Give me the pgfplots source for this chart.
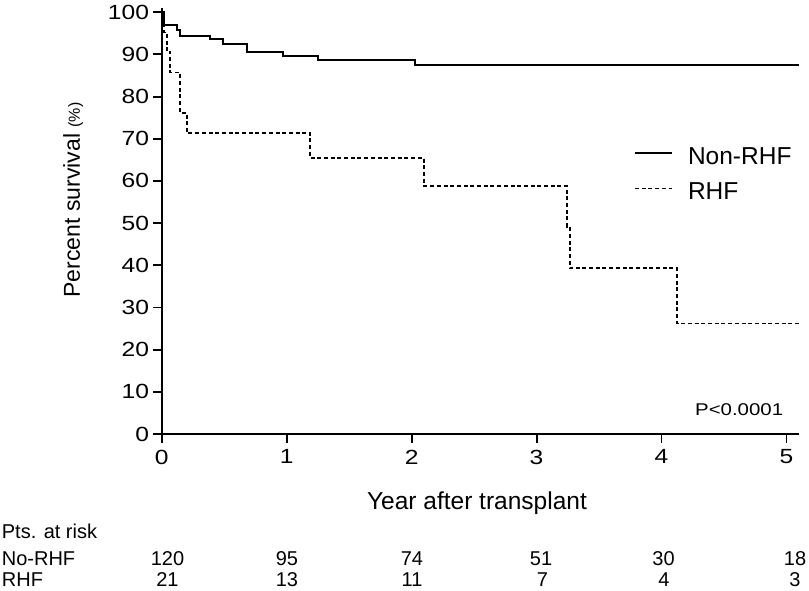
\documentclass[border=0pt]{standalone}
\usepackage{pgfplots}
\pgfplotsset{compat=1.18}
\usepackage{fontspec}
\setmainfont{Liberation Sans}
\newfontfamily\tickfont[FakeStretch=1.2]{Liberation Sans}
\begin{document}
\begin{tikzpicture}
\useasboundingbox (-161.7pt,-156pt) rectangle (647.3pt,434pt);
\begin{axis}[
  at={(0pt,0pt)}, anchor=south west,
  scale only axis, width=637.3pt, height=426pt,
  xmin=0, xmax=5.1, ymin=0, ymax=101,
  axis x line*=bottom, axis y line*=left,
  axis line style={line width=1.9pt, black},
  xtick={0,1,2,3,4,5}, ytick={0,10,...,100},
  tick align=outside, major tick length=8.5pt,
  tick style={line width=1.9pt, black},
  /pgf/number format/assume math mode=true,
  ticklabel style={font=\tickfont\fontsize{20.5}{23}\selectfont, inner sep=0pt},
  yticklabel style={anchor=east, xshift=-4pt},
  xticklabel style={anchor=north, yshift=-7pt},
  clip=false,
  legend cell align=left,
  legend style={draw=none, fill=none, inner sep=0pt, at={(0.741,0.673)}, anchor=north west,
    font=\fontsize{24.5}{29}\selectfont, nodes={inner sep=0pt}, row sep=17pt,
    /tikz/every odd column/.append style={column sep=15pt}},
  legend image code/.code={\draw[#1] (0pt,0.358em) -- (37pt,0.358em);},
]
\addplot[const plot, line width=1.9pt, black] coordinates {
 (0,100) (0.02,97.0) (0.12,95.8) (0.15,94.4) (0.39,93.6) (0.49,92.5)
 (0.685,90.6) (0.97,89.7) (1.25,88.7) (2.03,87.5) (5.1,87.5)};
\addlegendentry{Non-RHF}
\addplot[const plot, line width=1.9pt, black, dash pattern=on 4pt off 2.7pt] coordinates {
 (0,100) (0.02,95.2) (0.04,90.5) (0.07,85.7) (0.146,76.2) (0.2,71.4)
 (1.19,65.4) (2.10,58.8) (3.245,49.1) (3.265,39.3) (4.125,26.2) (5.1,26.2)};
\addlegendentry{RHF}
\end{axis}
% P value
\node[anchor=base west, inner sep=0pt, font=\tickfont\fontsize{17}{20}\selectfont] at (533.3pt,18.3pt) {P<0.0001};
% axis labels
\node[anchor=base, inner sep=0pt, font=\fontsize{24.5}{29}\selectfont] at (315.3pt,-75.3pt) {Year after transplant};
\node[anchor=base, inner sep=0pt, rotate=90] at (-81.7pt,234pt) {\fontsize{23}{27}\selectfont Percent survival \fontsize{16}{19}\selectfont(\%)};
% patients at risk
\begin{scope}[every node/.style={inner sep=0pt, font=\fontsize{20}{24}\selectfont}]
\node[anchor=base west] at (-160pt,-104.3pt) {Pts. at risk};
\node[anchor=base west] at (-160pt,-131pt) {No-RHF};
\node[anchor=base west] at (-160pt,-152.7pt) {RHF};
\node[anchor=base] at (5.8pt,-131pt) {120};
\node[anchor=base] at (125.3pt,-131pt) {95};
\node[anchor=base] at (250.3pt,-131pt) {74};
\node[anchor=base] at (379.3pt,-131pt) {51};
\node[anchor=base] at (501.8pt,-131pt) {30};
\node[anchor=base] at (633.3pt,-131pt) {18};
\node[anchor=base] at (5.8pt,-152.7pt) {21};
\node[anchor=base] at (125.3pt,-152.7pt) {13};
\node[anchor=base] at (250.3pt,-152.7pt) {11};
\node[anchor=base] at (380.8pt,-152.7pt) {7};
\node[anchor=base] at (502.3pt,-152.7pt) {4};
\node[anchor=base] at (633.3pt,-152.7pt) {3};
\end{scope}
\end{tikzpicture}
\end{document}
